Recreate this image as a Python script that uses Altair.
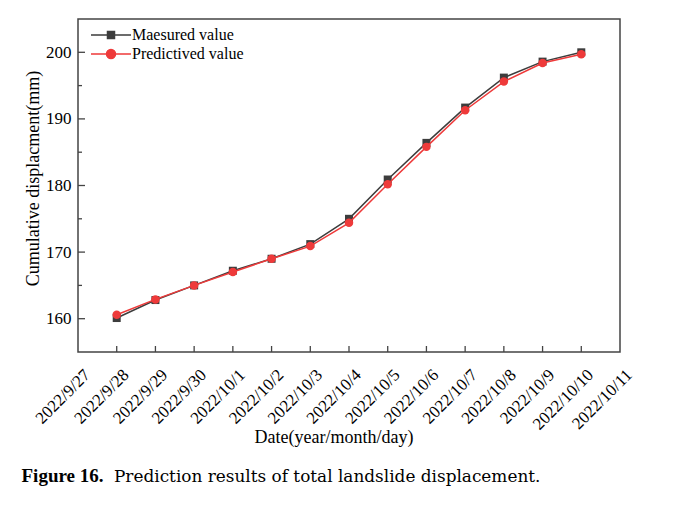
import altair as alt
import pandas as pd

# ---- data ----
date_labels = ["2022/9/27", "2022/9/28", "2022/9/29", "2022/9/30", "2022/10/1",
               "2022/10/2", "2022/10/3", "2022/10/4", "2022/10/5", "2022/10/6",
               "2022/10/7", "2022/10/8", "2022/10/9", "2022/10/10", "2022/10/11"]
dates = date_labels[1:14]
measured = [160.1, 162.8, 165.0, 167.2, 169.0, 171.2, 175.0, 180.9, 186.4, 191.7, 196.2, 198.6, 200.0]
predicted = [160.6, 162.9, 165.0, 167.0, 169.0, 170.9, 174.4, 180.2, 185.8, 191.3, 195.6, 198.4, 199.7]
y_major = [160, 170, 180, 190, 200]
y_minor = [165, 175, 185, 195]
series_names = ["Maesured value", "Predictived value"]
series_colors = ["#3d3d3d", "#ee3a3a"]
caption_bold = "Figure 16."
caption_rest = "Prediction results of total landslide displacement."

W, H = 542, 333
FONT = "Liberation Serif"

df = pd.DataFrame({"date": dates, "measured": measured, "predicted": predicted})
ymaj_df = pd.DataFrame({"value": y_major})
ymin_df = pd.DataFrame({"value": y_minor})
legend_df = pd.DataFrame({"series": series_names, "date": dates[:2], "value": measured[:2]})
cap_df = pd.DataFrame({"b": [caption_bold], "r": [caption_rest]})

x_scale = alt.Scale(type="point", domain=date_labels, padding=0)
x_axis = alt.Axis(title="Date(year/month/day)", labelAngle=-45, labelAlign="right",
                  labelBaseline="middle", labelPadding=20, labelOffset=9, labelOverlap=False,
                  titleX=255.5, titleY=90, titleBaseline="alphabetic", titleAnchor="start",
                  titleAlign="center")
y_scale = alt.Scale(domain=[155, 205], nice=False, zero=False)
y_axis = alt.Axis(title="Cumulative displacment(mm)", values=y_major, labelPadding=7,
                  titleX=-45, titleY=159, titleBaseline="middle", titleAlign="center",
                  titleAngle=-90)


def xe(field="date"):
    return alt.X(f"{field}:N", scale=x_scale, sort=date_labels, axis=x_axis)


def ye(field):
    return alt.Y(f"{field}:Q", scale=y_scale, axis=y_axis)


base = alt.Chart(df)

line_m = base.mark_line(color=series_colors[0], strokeWidth=1.5).encode(x=xe(), y=ye("measured"))
pt_m = base.mark_point(shape="square", filled=True, size=64, color=series_colors[0], opacity=1).encode(
    x=xe(), y=ye("measured"))
line_p = base.mark_line(color=series_colors[1], strokeWidth=1.5).encode(x=xe(), y=ye("predicted"))
pt_p = base.mark_point(shape="circle", filled=True, size=72, color=series_colors[1], opacity=1).encode(
    x=xe(), y=ye("predicted"))

# inward ticks
xticks = base.mark_rule(color="#444", strokeWidth=1.3).encode(
    x=xe(), y=alt.value(H), y2=alt.value(H - 6))
yticks_major = alt.Chart(ymaj_df).mark_rule(color="#444", strokeWidth=1.3).encode(
    y=ye("value"), x=alt.value(0), x2=alt.value(7))
yticks_minor = alt.Chart(ymin_df).mark_rule(color="#444", strokeWidth=1.3).encode(
    y=ye("value"), x=alt.value(0), x2=alt.value(4))

# legend
path_sq = "M-2,0H2M-0.35,-0.35H0.35V0.35H-0.35Z"
path_ci = "M-2,0H2M0.45,0A0.45,0.45,0,1,1,-0.45,0A0.45,0.45,0,1,1,0.45,0Z"
leg = alt.Legend(title=None, orient="none", legendX=22, legendY=5, padding=0,
                 symbolSize=400, labelOffset=10, rowPadding=0, labelFont=FONT,
                 labelFontSize=16, labelColor="black", symbolStrokeWidth=1.5,
                 symbolOpacity=1)
legend_layer = alt.Chart(legend_df).mark_point(filled=True, strokeWidth=1.5).encode(
    x=xe(), y=ye("value"),
    color=alt.Color("series:N", scale=alt.Scale(domain=series_names, range=series_colors), legend=leg),
    stroke=alt.Stroke("series:N", scale=alt.Scale(domain=series_names, range=series_colors), legend=leg),
    shape=alt.Shape("series:N", scale=alt.Scale(domain=series_names, range=[path_sq, path_ci]), legend=leg),
).transform_filter("false")

cap_b = alt.Chart(cap_df).mark_text(font=FONT, fontSize=19, fontWeight="bold", align="left",
                                    baseline="alphabetic", color="black").encode(
    text="b:N", x=alt.value(-56.5), y=alt.value(463.3))
cap_r = alt.Chart(cap_df).mark_text(font="DejaVu Serif", fontSize=16.9, align="left",
                                    baseline="alphabetic", color="black").encode(
    text="r:N", x=alt.value(36), y=alt.value(463.3))

chart = alt.layer(
    xticks, yticks_major, yticks_minor, line_m, pt_m, line_p, pt_p, legend_layer, cap_b, cap_r
).properties(
    width=W, height=H,
    autosize=alt.AutoSizeParams(type="none"),
    padding={"left": 70, "top": 11, "right": 60, "bottom": 140},
).configure_view(
    stroke="#444", strokeWidth=1.5
).configure_axis(
    grid=False, domain=False, ticks=False, tickSize=0,
    labelFont=FONT, labelFontSize=17, labelColor="black",
    titleFont=FONT, titleFontSize=18, titleFontWeight="normal", titleColor="black",
)

chart.save("out.html", embed_options={"renderer": "svg", "actions": False})
